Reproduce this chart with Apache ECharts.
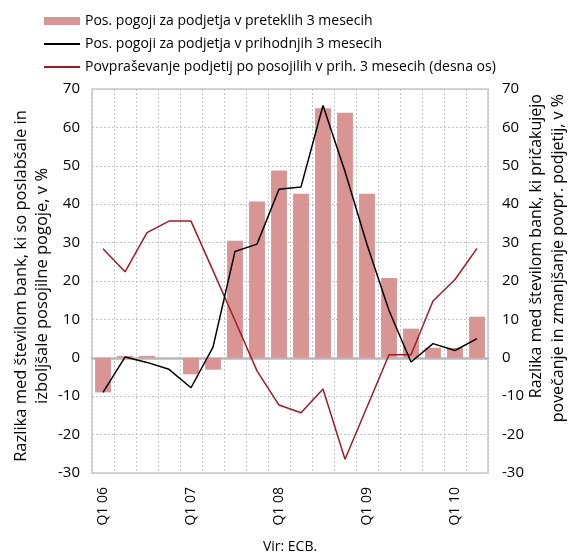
<!DOCTYPE html>
<html>
<head>
<meta charset="utf-8">
<script src="https://cdn.jsdelivr.net/npm/echarts@6/dist/echarts.min.js"></script>
<style>
    html, body { margin: 0; padding: 0; background: #fff; }
    #chart { width: 569px; height: 554px; }
</style>
</head>
<body>
<div id="chart"></div>
<script>
var categories = ['Q1 06', 'Q2 06', 'Q3 06', 'Q4 06', 'Q1 07', 'Q2 07', 'Q3 07', 'Q4 07', 'Q1 08',
    'Q2 08', 'Q3 08', 'Q4 08', 'Q1 09', 'Q2 09', 'Q3 09', 'Q4 09', 'Q1 10', 'Q2 10'];
// pogoji v preteklih 3 mesecih (stolpci)
var pastConditions = [-9, 0.5, 0.5, 0, -4.3, -3.1, 30.5, 40.7, 48.8, 42.7, 65, 63.8, 42.7, 20.8, 7.6, 2.6, 2.6, 10.7];
// pogoji v prihodnjih 3 mesecih (crna crta)
var nextConditions = [-9, 0.2, -1.2, -3, -7.8, 2.8, 27.7, 29.6, 43.9, 44.5, 65.7, 48.5, 29.5, 12.3, -1.1, 3.7, 1.9, 5];
// povprasevanje podjetij (desna os)
var loanDemand = [28.4, 22.4, 32.6, 35.6, 35.6, 22.7, 9.7, -3.4, -12.3, -14.3, -8.1, -26.4, -12.8, 0.8, 0.8, 14.8, 20.4, 28.5];
var yTicks = { min: -30, max: 70, interval: 10 };

var fontFamily = '"Open Sans", "Noto Sans", sans-serif';
var barColor = '#d99594';
var demandColor = '#a31a22';
var gridColor = '#c4c4c4';

var legendNames = [
    'Pos. pogoji za podjetja v preteklih 3 mesecih',
    'Pos. pogoji za podjetja v prihodnjih 3 mesecih',
    'Povpraševanje podjetij po posojilih v prih. 3 mesecih (desna os)'
];

function valueAxis(position) {
    return {
        type: 'value',
        position: position,
        min: yTicks.min,
        max: yTicks.max,
        interval: yTicks.interval,
        axisLine: { show: false },
        axisTick: { show: false },
        axisLabel: {
            color: '#000',
            fontFamily: fontFamily,
            fontSize: 15,
            margin: position === 'left' ? 12 : 14
        },
        splitLine: position === 'left' ? {
            show: true,
            lineStyle: { color: gridColor, type: [2, 2], width: 1 }
        } : { show: false }
    };
}

var option = {
    animation: false,
    backgroundColor: '#fff',
    textStyle: { fontFamily: fontFamily },
    legend: {
        orient: 'vertical',
        left: 38,
        top: 9,
        itemWidth: 36,
        itemHeight: 8,
        itemGap: 9,
        textStyle: { color: '#000', fontSize: 14, fontFamily: fontFamily },
        data: [
            { name: legendNames[0], icon: 'rect' },
            { name: legendNames[1], itemStyle: { opacity: 0 } },
            { name: legendNames[2], itemStyle: { opacity: 0 } }
        ]
    },
    grid: {
        left: 92,
        right: 81,
        top: 89,
        bottom: 81,
        show: true,
        borderColor: '#c8c8c8',
        borderWidth: 1.5
    },
    xAxis: {
        type: 'category',
        data: categories,
        boundaryGap: true,
        axisLine: { onZero: true, lineStyle: { color: '#b8b8b8', width: 2.5 } },
        axisTick: { show: false },
        axisLabel: {
            interval: 3,
            rotate: 90,
            color: '#000',
            fontFamily: fontFamily,
            fontSize: 14,
            margin: 14
        },
        splitLine: {
            show: true,
            interval: 0,
            lineStyle: { color: gridColor, type: [2, 2], width: 1 }
        }
    },
    yAxis: [valueAxis('left'), valueAxis('right')],
    series: [
        {
            name: legendNames[0],
            type: 'bar',
            data: pastConditions,
            barCategoryGap: '28%',
            itemStyle: { color: barColor },
            z: 2
        },
        {
            name: legendNames[1],
            type: 'line',
            data: nextConditions,
            symbol: 'none',
            lineStyle: { color: '#000', width: 1.5 },
            itemStyle: { color: '#000' },
            z: 4
        },
        {
            name: legendNames[2],
            type: 'line',
            yAxisIndex: 1,
            data: loanDemand,
            symbol: 'none',
            lineStyle: { color: demandColor, width: 1.5 },
            itemStyle: { color: demandColor },
            z: 3
        }
    ],
    graphic: [
        {
            type: 'text',
            x: 32,
            y: 286,
            rotation: Math.PI / 2,
            style: {
                text: 'Razlika med številom bank, ki so poslabšale in\nizboljšale posojilne pogoje, v %',
                fontFamily: fontFamily,
                fontSize: 16.5,
                lineHeight: 21,
                fill: '#000',
                align: 'center',
                verticalAlign: 'middle'
            }
        },
        {
            type: 'text',
            x: 547,
            y: 94,
            rotation: Math.PI / 2,
            style: {
                text: 'Razlika med številom bank, ki pričakujejo\npovečanje in zmanjšanje povpr. podjetij, v %',
                fontFamily: fontFamily,
                fontSize: 16,
                lineHeight: 22,
                fill: '#000',
                align: 'right',
                verticalAlign: 'middle'
            }
        },
        {
            type: 'text',
            x: 290,
            y: 547,
            style: {
                text: 'Vir: ECB.',
                fontFamily: fontFamily,
                fontSize: 14,
                fill: '#000',
                align: 'center',
                verticalAlign: 'middle'
            }
        }
    ]
};

var chart = echarts.init(document.getElementById('chart'));
chart.setOption(option);
</script>
</body>
</html>
